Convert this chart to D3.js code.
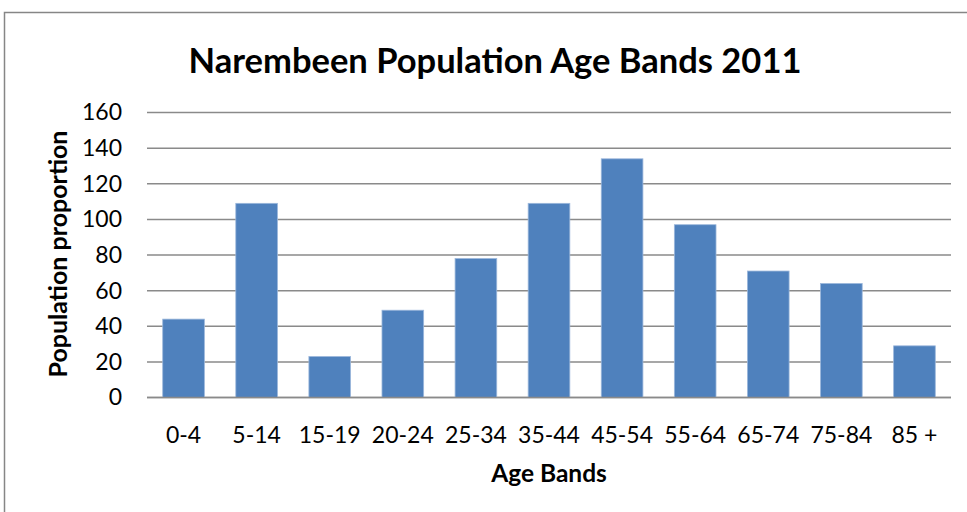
<!DOCTYPE html>
<html>
<head>
<meta charset="utf-8">
<script src="https://cdn.jsdelivr.net/npm/d3@7"></script>
<style>
  html, body { margin: 0; padding: 0; background: #fff; }
  svg { display: block; font-family: Lato, "Open Sans", sans-serif; }
</style>
</head>
<body>
<svg id="chart" width="967" height="512"></svg>
<script>
// Narembeen population by age band, 2011 census
const ageBands = ["0-4", "5-14", "15-19", "20-24", "25-34", "35-44", "45-54", "55-64", "65-74", "75-84", "85 +"];
const population = [44, 109, 23, 49, 78, 109, 134, 97, 71, 64, 29];
const yTicks = [0, 20, 40, 60, 80, 100, 120, 140, 160];

const svg = d3.select("#chart");
const W = 967, H = 512;
const margin = { left: 147, right: 16, top: 112.5, bottom: 114.5 };

// chart frame
svg.append("rect")
  .attr("x", 4.5).attr("y", 12.5)
  .attr("width", W + 10).attr("height", H + 10)
  .attr("fill", "#fff").attr("stroke", "#868686").attr("stroke-width", 1.5);

const x = d3.scaleBand()
  .domain(ageBands)
  .range([margin.left, W - margin.right])
  .paddingInner(0.43).paddingOuter(0.215);

const y = d3.scaleLinear()
  .domain([0, 160])
  .range([H - margin.bottom, margin.top]);

// gridlines
svg.append("g")
  .selectAll("line")
  .data(yTicks)
  .join("line")
  .attr("x1", margin.left).attr("x2", W - margin.right)
  .attr("y1", d => y(d)).attr("y2", d => y(d))
  .attr("stroke", "#8a8a8a").attr("stroke-width", 1.5);

// bars
svg.append("g")
  .selectAll("rect")
  .data(ageBands.map((b, i) => ({ band: b, value: population[i] })))
  .join("rect")
  .attr("x", d => x(d.band))
  .attr("y", d => y(d.value))
  .attr("width", x.bandwidth())
  .attr("height", d => y(0) - y(d.value))
  .attr("fill", "#4f81bd")
  .attr("stroke", "#9bb7db").attr("stroke-width", 0.8);

// y axis labels
const yAxis = d3.axisLeft(y).tickValues(yTicks).tickSize(0).tickPadding(25);
const yg = svg.append("g").attr("transform", `translate(${margin.left},0)`).call(yAxis);
yg.select(".domain").remove();
yg.selectAll("text").attr("font-size", 23).attr("fill", "#000").attr("font-family", "Lato, sans-serif");

// x axis labels
const xAxis = d3.axisBottom(x).tickSize(0).tickPadding(29);
const xg = svg.append("g").attr("transform", `translate(0,${y(0)})`).call(xAxis);
xg.select(".domain").remove();
xg.selectAll("text").attr("font-size", 23).attr("fill", "#000").attr("font-family", "Lato, sans-serif");

// baseline
svg.append("line")
  .attr("x1", margin.left).attr("x2", W - margin.right)
  .attr("y1", y(0)).attr("y2", y(0))
  .attr("stroke", "#8a8a8a").attr("stroke-width", 1.5);

// title
svg.append("text")
  .attr("x", 495).attr("y", 73)
  .attr("text-anchor", "middle")
  .attr("font-size", 34.5).attr("font-weight", "bold")
  .text("Narembeen Population Age Bands 2011");

// axis titles
svg.append("text")
  .attr("x", 549).attr("y", 482)
  .attr("text-anchor", "middle")
  .attr("font-size", 24.5).attr("font-weight", "bold")
  .text("Age Bands");

svg.append("text")
  .attr("transform", "translate(67,254) rotate(-90)")
  .attr("text-anchor", "middle")
  .attr("font-size", 25).attr("font-weight", "bold")
  .text("Population proportion");
</script>
</body>
</html>
